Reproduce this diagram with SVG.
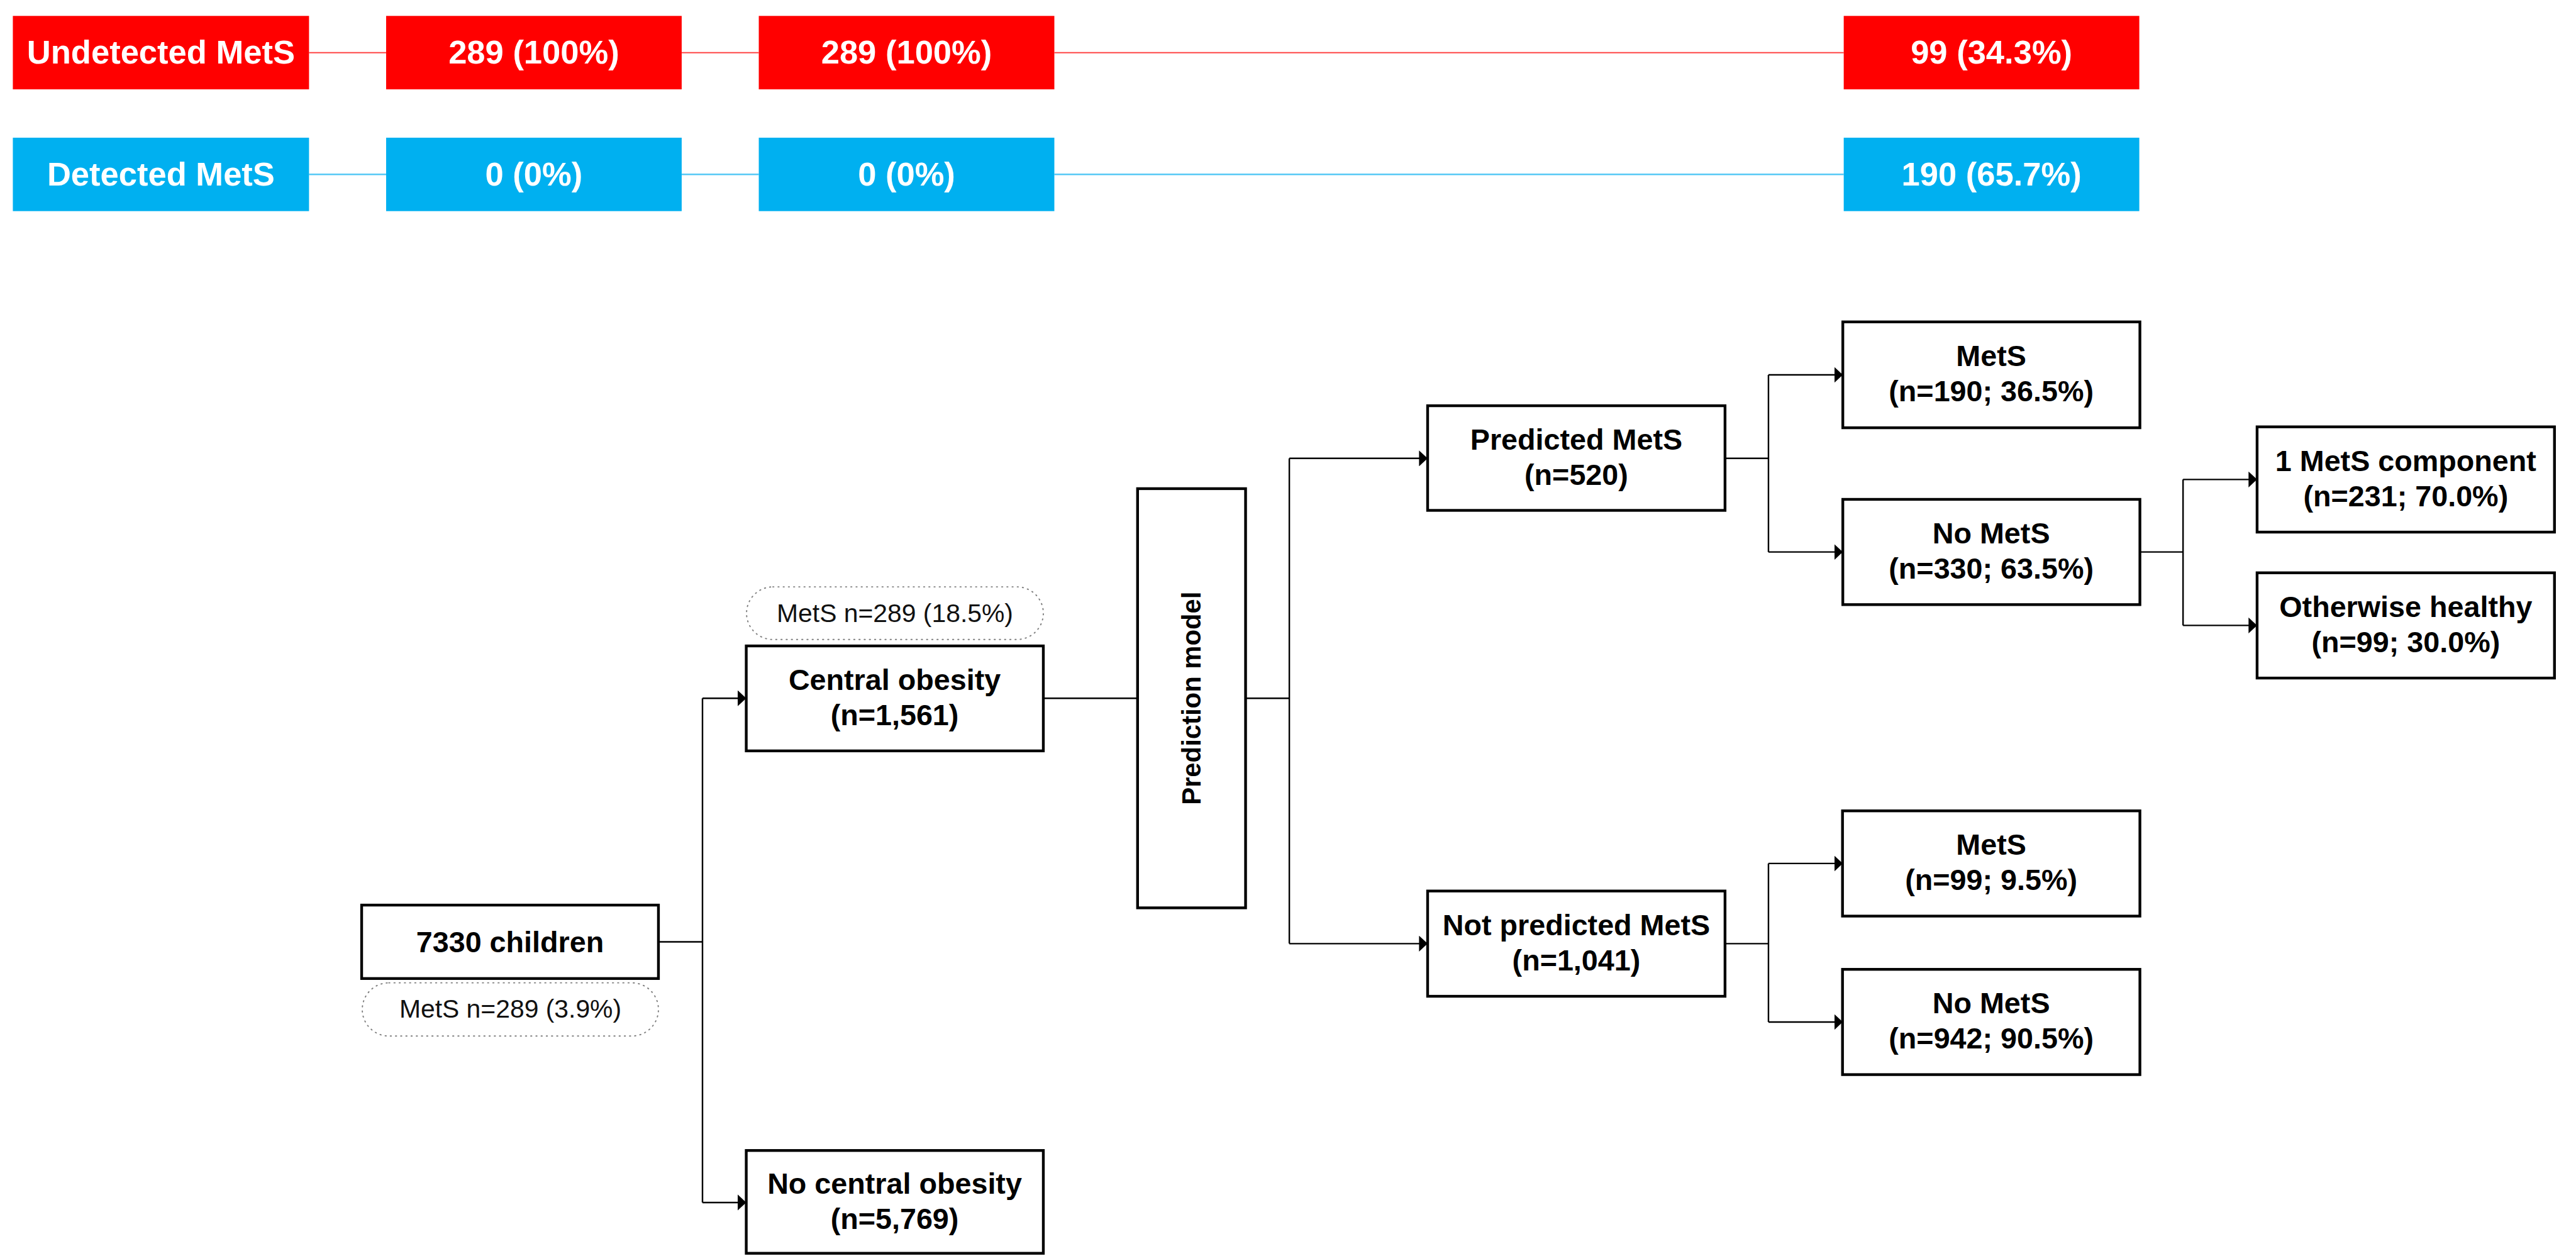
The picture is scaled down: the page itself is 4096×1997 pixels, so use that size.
<svg xmlns="http://www.w3.org/2000/svg" width="4096" height="1997" viewBox="0 0 4096 1997">
<defs>
<style>
.box{fill:#fff;stroke:#000;stroke-width:4.5}
.red{fill:#ff0000}
.blue{fill:#00b0f0}
.rl{stroke:#ff4444;stroke-width:2;fill:none}
.bl{stroke:#55c8f5;stroke-width:2.5;fill:none}
.pill{fill:none;stroke:#808080;stroke-width:2;stroke-dasharray:1.5 7;stroke-linecap:round}
.t{font-family:"Liberation Sans",Arial,sans-serif;font-weight:bold;font-size:48px;fill:#000;text-anchor:middle}
.tw{font-family:"Liberation Sans",Arial,sans-serif;font-weight:bold;font-size:54px;fill:#fff;text-anchor:middle}
.tp{font-family:"Liberation Sans",Arial,sans-serif;font-size:42px;fill:#111;text-anchor:middle}
.c{stroke:#000;stroke-width:2.5;fill:none}
</style>
<marker id="ah" markerUnits="userSpaceOnUse" markerWidth="14" markerHeight="26" viewBox="0 0 14 26" refX="14" refY="13" orient="auto">
<path d="M0,0 L14,13 L0,26 z" fill="#000"/>
</marker>
</defs>
<rect width="4096" height="1997" fill="#fff"/>
<g transform="scale(0.973)">
<g id="top-lines">
<line class="rl" x1="505" y1="86" x2="631" y2="86"/>
<line class="rl" x1="1114" y1="86" x2="1240" y2="86"/>
<line class="rl" x1="1723" y1="86" x2="3013" y2="86"/>
<line class="bl" x1="505" y1="285" x2="631" y2="285"/>
<line class="bl" x1="1114" y1="285" x2="1240" y2="285"/>
<line class="bl" x1="1723" y1="285" x2="3013" y2="285"/>
</g>
<g id="undetected-label"><rect class="red" x="21" y="26" width="484" height="120"/><text class="tw" x="263" y="104">Undetected MetS</text></g>
<g id="undetected-1"><rect class="red" x="631" y="26" width="483" height="120"/><text class="tw" x="872.5" y="104">289 (100%)</text></g>
<g id="undetected-2"><rect class="red" x="1240" y="26" width="483" height="120"/><text class="tw" x="1481.5" y="104">289 (100%)</text></g>
<g id="undetected-3"><rect class="red" x="3013" y="26" width="483" height="120"/><text class="tw" x="3254.5" y="104">99 (34.3%)</text></g>
<g id="detected-label"><rect class="blue" x="21" y="225" width="484" height="120"/><text class="tw" x="263" y="303">Detected MetS</text></g>
<g id="detected-1"><rect class="blue" x="631" y="225" width="483" height="120"/><text class="tw" x="872.5" y="303">0 (0%)</text></g>
<g id="detected-2"><rect class="blue" x="1240" y="225" width="483" height="120"/><text class="tw" x="1481.5" y="303">0 (0%)</text></g>
<g id="detected-3"><rect class="blue" x="3013" y="225" width="483" height="120"/><text class="tw" x="3254.5" y="303">190 (65.7%)</text></g>

<g id="connectors">
<polyline class="c" points="1076,1539 1148,1539"/>
<polyline class="c" points="1148,1141 1148,1965"/>
<line class="c" x1="1148" y1="1141" x2="1219.5" y2="1141" marker-end="url(#ah)"/>
<line class="c" x1="1148" y1="1965" x2="1219.5" y2="1965" marker-end="url(#ah)"/>
<line class="c" x1="1705" y1="1141" x2="1859" y2="1141"/>
<polyline class="c" points="2035.5,1141 2107,1141"/>
<polyline class="c" points="2107,749 2107,1542"/>
<line class="c" x1="2107" y1="749" x2="2333" y2="749" marker-end="url(#ah)"/>
<line class="c" x1="2107" y1="1542" x2="2333" y2="1542" marker-end="url(#ah)"/>
<polyline class="c" points="2819,749 2890,749"/>
<polyline class="c" points="2890,612.5 2890,902"/>
<line class="c" x1="2890" y1="612.5" x2="3011.5" y2="612.5" marker-end="url(#ah)"/>
<line class="c" x1="2890" y1="902" x2="3011.5" y2="902" marker-end="url(#ah)"/>
<polyline class="c" points="2819,1542 2890,1542"/>
<polyline class="c" points="2890,1411 2890,1670"/>
<line class="c" x1="2890" y1="1411" x2="3011.5" y2="1411" marker-end="url(#ah)"/>
<line class="c" x1="2890" y1="1670" x2="3011.5" y2="1670" marker-end="url(#ah)"/>
<polyline class="c" points="3497,902 3567.5,902"/>
<polyline class="c" points="3567.5,783.5 3567.5,1022"/>
<line class="c" x1="3567.5" y1="783.5" x2="3688.5" y2="783.5" marker-end="url(#ah)"/>
<line class="c" x1="3567.5" y1="1022" x2="3688.5" y2="1022" marker-end="url(#ah)"/>
</g>

<g id="children"><rect class="box" x="591" y="1479" width="485" height="120"/><text class="t" x="833.5" y="1556">7330 children</text></g>
<g id="pill-children"><rect class="pill" x="592" y="1606" width="484" height="87" rx="43.5"/><text class="tp" x="834" y="1663">MetS n=289 (3.9%)</text></g>
<g id="pill-central"><rect class="pill" x="1220" y="959" width="485" height="86" rx="43"/><text class="tp" x="1462.5" y="1016">MetS n=289 (18.5%)</text></g>
<g id="central-obesity"><rect class="box" x="1219.5" y="1055.5" width="485.5" height="171.5"/><text class="t" x="1462" y="1127">Central obesity</text><text class="t" x="1462" y="1184.5">(n=1,561)</text></g>
<g id="no-central-obesity"><rect class="box" x="1219.5" y="1880" width="485.5" height="168"/><text class="t" x="1462" y="1951">No central obesity</text><text class="t" x="1462" y="2008">(n=5,769)</text></g>
<g id="prediction-model"><rect class="box" x="1859" y="798.5" width="176.5" height="685"/><text class="t" style="font-size:43px" transform="translate(1962,1141) rotate(-90)" x="0" y="0">Prediction model</text></g>
<g id="predicted"><rect class="box" x="2333" y="663" width="486" height="171"/><text class="t" x="2576" y="734.5">Predicted MetS</text><text class="t" x="2576" y="792">(n=520)</text></g>
<g id="not-predicted"><rect class="box" x="2333" y="1456" width="486" height="172"/><text class="t" x="2576" y="1528">Not predicted MetS</text><text class="t" x="2576" y="1585.5">(n=1,041)</text></g>
<g id="mets-190"><rect class="box" x="3011.5" y="526" width="485.5" height="173"/><text class="t" x="3254" y="598">MetS</text><text class="t" x="3254" y="655.5">(n=190; 36.5%)</text></g>
<g id="nomets-330"><rect class="box" x="3011.5" y="816" width="485.5" height="172"/><text class="t" x="3254" y="888">No MetS</text><text class="t" x="3254" y="945.5">(n=330; 63.5%)</text></g>
<g id="one-component"><rect class="box" x="3688.5" y="697.5" width="486" height="172"/><text class="t" x="3931.5" y="769.5">1 MetS component</text><text class="t" x="3931.5" y="827">(n=231; 70.0%)</text></g>
<g id="otherwise-healthy"><rect class="box" x="3688.5" y="936" width="486" height="172"/><text class="t" x="3931.5" y="1008">Otherwise healthy</text><text class="t" x="3931.5" y="1065.5">(n=99; 30.0%)</text></g>
<g id="mets-99"><rect class="box" x="3011" y="1325" width="486" height="172"/><text class="t" x="3254" y="1397">MetS</text><text class="t" x="3254" y="1454.5">(n=99; 9.5%)</text></g>
<g id="nomets-942"><rect class="box" x="3011" y="1584" width="486" height="172"/><text class="t" x="3254" y="1656">No MetS</text><text class="t" x="3254" y="1713.5">(n=942; 90.5%)</text></g>
</g>
</svg>
